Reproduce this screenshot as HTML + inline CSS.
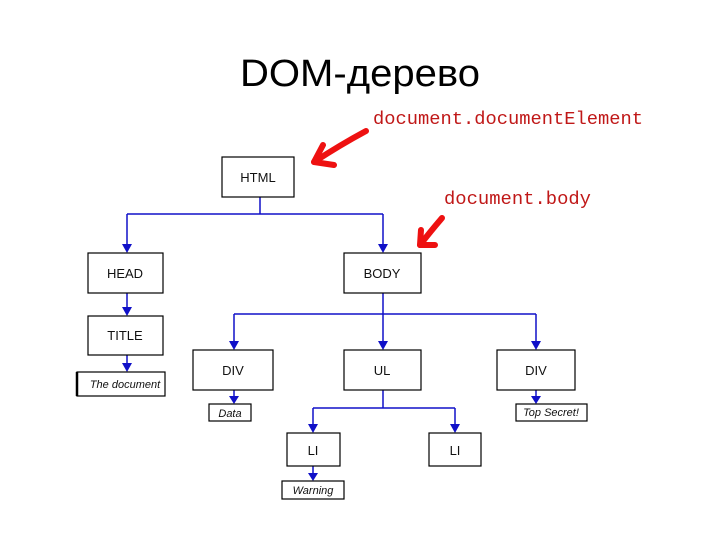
<!DOCTYPE html>
<html><head><meta charset="utf-8"><style>
body{margin:0;background:#fff;}
svg{display:block}
</style></head><body>
<svg width="720" height="540" xmlns="http://www.w3.org/2000/svg">
<text x="240" y="86" font-family="Liberation Sans, sans-serif" font-size="38" fill="#000" textLength="240" lengthAdjust="spacingAndGlyphs">DOM-дерево</text>
<text x="373" y="124" font-family="Liberation Mono, monospace" font-size="18" fill="#c01818" textLength="270" lengthAdjust="spacingAndGlyphs">document.documentElement</text>
<text x="444" y="204" font-family="Liberation Mono, monospace" font-size="18" fill="#c01818" textLength="147" lengthAdjust="spacingAndGlyphs">document.body</text>
<g stroke="#ee1111" stroke-width="6" fill="none" stroke-linecap="round" stroke-linejoin="round">
<path d="M366,131 Q340,145 314,162"/><path d="M323,145 L314,162 L334,165"/>
<path d="M442,218 Q430,232 420,245"/><path d="M421,230 L420,245 L435,245"/>
</g>
<g stroke="#1010c8" stroke-width="1.5" fill="none">
<path d="M260,197 V214 M127,214 H383"/>
<path d="M127,214 V250"/><path d="M383,214 V250"/>
<path d="M127,293 V313"/><path d="M127,355 V369"/>
<path d="M383,293 V314 M234,314 H536"/>
<path d="M234,314 V347"/><path d="M383,314 V347"/><path d="M536,314 V347"/>
<path d="M234,390 V401"/><path d="M536,390 V401"/>
<path d="M383,390 V408 M313,408 H455"/>
<path d="M313,408 V430"/><path d="M455,408 V430"/>
<path d="M313,466 V478"/>
</g>
<g fill="#1010c8">
<path d="M122,244 h10 l-5,9z"/><path d="M378,244 h10 l-5,9z"/>
<path d="M122,307 h10 l-5,9z"/><path d="M122,363 h10 l-5,9z"/>
<path d="M229,341 h10 l-5,9z"/><path d="M378,341 h10 l-5,9z"/><path d="M531,341 h10 l-5,9z"/>
<path d="M229,396 h10 l-5,8z"/><path d="M531,396 h10 l-5,8z"/>
<path d="M308,424 h10 l-5,9z"/><path d="M450,424 h10 l-5,9z"/>
<path d="M308,473 h10 l-5,8z"/>
</g>
<g fill="#fff" stroke="#000" stroke-width="1.2">
<rect x="222" y="157" width="72" height="40"/>
<rect x="88" y="253" width="75" height="40"/>
<rect x="344" y="253" width="77" height="40"/>
<rect x="88" y="316" width="75" height="39"/>
<rect x="77" y="372" width="88" height="24"/>
<rect x="193" y="350" width="80" height="40"/>
<rect x="344" y="350" width="77" height="40"/>
<rect x="497" y="350" width="78" height="40"/>
<rect x="209" y="404" width="42" height="17"/>
<rect x="516" y="404" width="71" height="17"/>
<rect x="287" y="433" width="53" height="33"/>
<rect x="429" y="433" width="52" height="33"/>
<rect x="282" y="481" width="62" height="18"/>
</g>
<line x1="77" y1="372" x2="77" y2="396" stroke="#000" stroke-width="2.5"/>
<g font-family="Liberation Sans, sans-serif" font-size="13" fill="#111" text-anchor="middle">
<text x="258" y="182">HTML</text>
<text x="125" y="278">HEAD</text>
<text x="382" y="278">BODY</text>
<text x="125" y="340">TITLE</text>
<text x="233" y="375">DIV</text>
<text x="382" y="375">UL</text>
<text x="536" y="375">DIV</text>
<text x="313" y="455">LI</text>
<text x="455" y="455">LI</text>
</g>
<g font-family="Liberation Sans, sans-serif" font-size="11" font-style="italic" fill="#111" text-anchor="middle">
<text x="125" y="388">The document</text>
<text x="230" y="417">Data</text>
<text x="551" y="416">Top Secret!</text>
<text x="313" y="494">Warning</text>
</g>
</svg>
</body></html>
